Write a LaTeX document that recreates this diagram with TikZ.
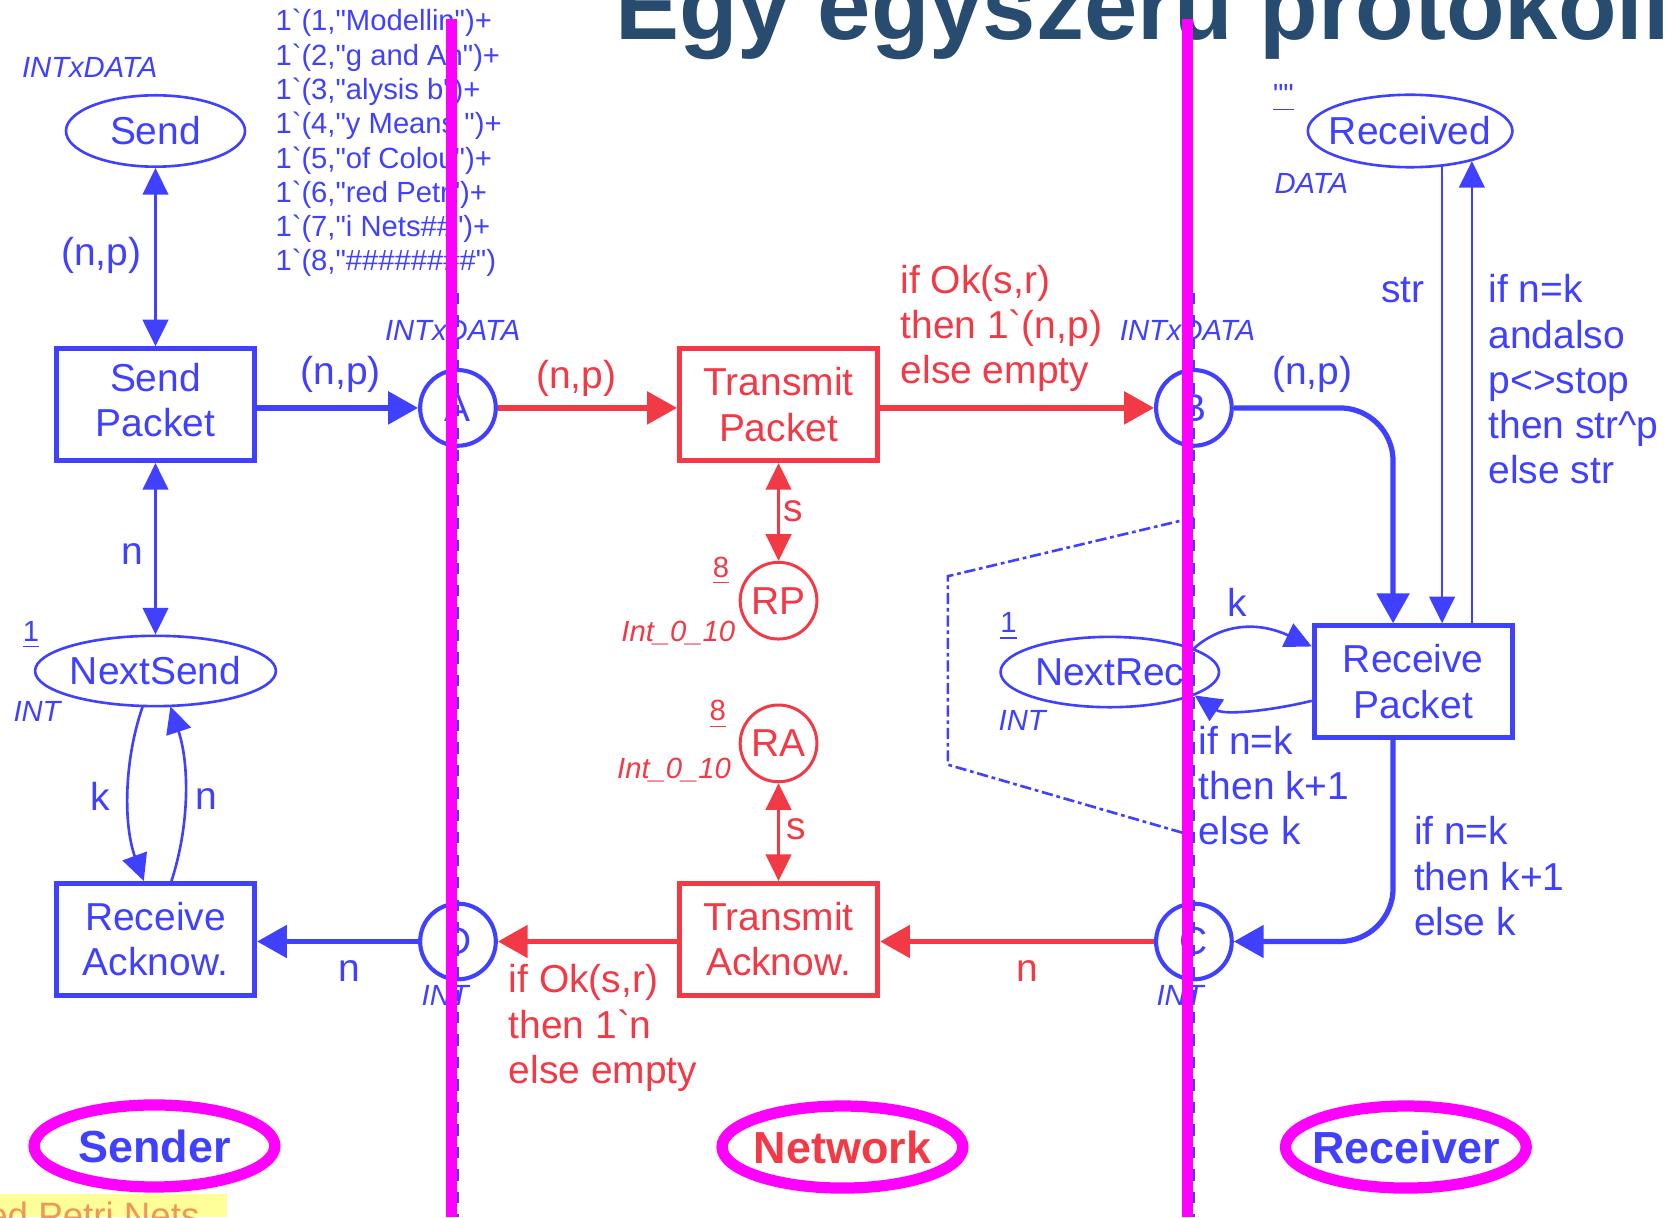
\documentclass[tikz,border=0pt]{standalone}
\usepackage{fontspec}
\usetikzlibrary{positioning,arrows.meta,calc,shapes.geometric}
\newfontfamily\netfont{Liberation Sans}
\definecolor{cpnblue}{RGB}{64,64,255}
\definecolor{cpnred}{RGB}{242,58,70}
\definecolor{hilite}{RGB}{255,0,255}
\definecolor{titleblue}{RGB}{40,75,112}
\definecolor{footorange}{RGB}{240,150,90}
\definecolor{footyellow}{RGB}{255,255,153}

\begin{document}
\begin{tikzpicture}[
    x=0.01cm, y=-0.01cm,
    cpnblue,
    font=\netfont\fontsize{10.4}{12.1}\selectfont,
    place/.style={circle, draw, line width=1.1pt, minimum size=0.71cm, inner sep=0pt},
    oval/.style={ellipse, draw, line width=0.7pt, inner xsep=-4pt, inner ysep=0pt},
    trans/.style={
      draw,
      line width=1.3pt,
      minimum width=1.86cm,
      minimum height=1.05cm,
      inner sep=0pt,
      align=center
    },
    lbl/.style={inner sep=0pt},
    cond/.style={inner sep=0pt, align=left, anchor=north west},
    typ/.style={inner sep=0pt, font=\netfont\itshape\fontsize{7.8}{9.2}\selectfont},
    mrk/.style={inner sep=0pt, font=\netfont\fontsize{7.8}{9.16}\selectfont},
    lightarc/.style={line width=0.7pt},
    heavyarc/.style={line width=1.4pt},
    arr/.style={-{Triangle[length=0.25cm,width=0.24cm]}},
    arrs/.style={{Triangle[length=0.25cm,width=0.24cm]}-{Triangle[length=0.25cm,width=0.24cm]}},
    bigarr/.style={-{Triangle[length=0.28cm,width=0.3cm]}},
    divider/.style={draw=hilite, line width=3pt},
    partlbl/.style={
      ellipse,
      draw=hilite,
      line width=3pt,
      minimum width=2.26cm,
      minimum height=0.77cm,
      inner xsep=-6pt,
      inner ysep=0pt,
      font=\netfont\bfseries\fontsize{12}{14}\selectfont
    }
  ]
  \useasboundingbox (0,0) rectangle (1568,1143);
  \clip (0,0) rectangle (1568,1143);

  % slide heading, cut off at the top
  \node[anchor=base west, inner sep=0pt, text=titleblue,
    font=\netfont\bfseries\fontsize{25.6}{30}\selectfont] (title) at (577,37) {Egy egyszerű protokoll};

  % dashed page borders
  \draw[dashed, line width=0.6pt] (430,275) -- (430,1143);
  \draw[dashed, line width=0.6pt] (1121,275) -- (1121,1143);
  \draw[dash pattern=on 3pt off 1pt on 1pt off 1pt, line width=0.7pt]
    (1121,486) -- (890,541) -- (890,718) -- (1121,785);

  % border places A, B, C, D
  \node[place] (A) at (430,383) {A};
  \node[typ] (Atype) at (425,310) {INTxDATA};
  \node[place] (D) at (430,884) {D};
  \node[typ] (Dtype) at (418,935) {INT};
  \node[place] (B) at (1121,383) {B};
  \node[typ] (Btype) at (1115,310) {INTxDATA};
  \node[place] (C) at (1121,884) {C};
  \node[typ] (Ctype) at (1108,935) {INT};

  % Sender: Send -> Send Packet -> A, D -> Receive Acknow. <-> NextSend
  \node[typ, anchor=west] (sendtype) at (20,63) {INTxDATA};
  \node[oval, minimum width=1.68cm, minimum height=0.67cm] (send) at (146,123) {Send};
  \node[mrk, align=left, anchor=north west] (sendinit) at (258,8)
    {1`(1,"Modellin")+\\1`(2,"g and An")+\\1`(3,"alysis b")+\\1`(4,"y Means ")+\\%
     1`(5,"of Colou")+\\1`(6,"red Petr")+\\1`(7,"i Nets\#\#")+\\1`(8,"\#\#\#\#\#\#\#\#")};
  \node[trans] (sendpk) at (146,380) {\raisebox{5pt}{\begin{tabular}{@{}c@{}}Send\\Packet\end{tabular}}};
  \node[oval, minimum width=2.26cm, minimum height=0.66cm] (nextsend) at (146,630) {NextSend};
  \node[mrk] (nsinit) at (29,596) {\underline{1}};
  \node[typ, anchor=west] (nstype) at (12,668) {INT};
  \node[trans] (recack) at (146,882) {Receive\\Acknow.};

  \draw[lightarc, arrs] (send) -- (sendpk);
  \draw[lightarc, arrs] (sendpk) -- (nextsend);
  \draw[heavyarc, bigarr] (sendpk.east |- A) -- (A);
  \draw[lightarc, arr] ($(nextsend.south)+(-12,-1)$) .. controls (116,715) and (116,775) .. ($(recack.north)+(-11,0)$);
  \draw[lightarc, arr] ($(recack.north)+(15,0)$) .. controls (178,775) and (178,718) .. ($(nextsend.south)+(14,-1)$);
  \draw[heavyarc, bigarr] (D) -- (recack.east |- D);

  \node[lbl] (npsend) at (95,240) {(n,p)};
  \node[lbl] (npA) at (320,352) {(n,p)};
  \node[lbl] (nnext) at (124,520) {n};
  \node[lbl] (kack) at (94,748) {k};
  \node[lbl] (nack) at (194,750) {n};
  \node[lbl] (nD) at (328,912) {n};

  % Network: Transmit Packet / Transmit Acknow. with RP and RA
  \begin{scope}[cpnred]
    \node[trans] (transpk) at (731,380) {Transmit\\Packet};
    \node[place, line width=0.8pt, minimum size=0.72cm] (RP) at (731,564) {RP};
    \node[mrk] (RPinit) at (677,536) {\underline{8}};
    \node[typ, anchor=east] (RPtype) at (691,594) {Int\_0\_10};
    \node[place, line width=0.8pt, minimum size=0.72cm] (RA) at (731,698) {RA};
    \node[mrk] (RAinit) at (674,671) {\underline{8}};
    \node[typ, anchor=east] (RAtype) at (687,723) {Int\_0\_10};
    \node[trans] (transack) at (731,882) {Transmit\\Acknow.};

    \draw[heavyarc, bigarr] (A) -- (transpk.west |- A);
    \draw[heavyarc, bigarr] (transpk.east |- B) -- (B);
    \draw[lightarc, arrs] (transpk) -- (RP);
    \draw[lightarc, arrs] (RA) -- (transack);
    \draw[heavyarc, bigarr] (C) -- (transack.east |- C);
    \draw[heavyarc, bigarr] (transack.west |- D) -- (D);

    \node[lbl] (npTP) at (541,355) {(n,p)};
    \node[cond] (condB) at (845,248) {if Ok(s,r)\\then 1`(n,p)\\else empty};
    \node[lbl] (sRP) at (745,480) {s};
    \node[lbl] (sRA) at (748,779) {s};
    \node[lbl] (nC) at (965,912) {n};
    \node[cond] (condD) at (477,905) {if Ok(s,r)\\then 1`n\\else empty};
  \end{scope}

  % Receiver: B -> Receive Packet -> C, Received and NextRec
  \node[oval, minimum width=1.92cm, minimum height=0.68cm] (received) at (1324,123) {Received};
  \node[mrk] (rcvinit) at (1205,92) {\underline{""}};
  \node[typ, anchor=west] (rcvtype) at (1196,172) {DATA};
  \node[trans] (recpk) at (1327,640) {Receive\\Packet};
  \node[oval, minimum width=2.05cm, minimum height=0.66cm] (nextrec) at (1042,631) {NextRec};
  \node[mrk] (nrinit) at (947,588) {\underline{1}};
  \node[typ, anchor=west] (nrtype) at (937,676) {INT};

  \draw[heavyarc, bigarr, rounded corners=0.5cm] (B) -| ($(recpk.north)+(-19,0)$);
  \draw[lightarc, arr] ($(received.south)+(30,-2)$) -- ($(recpk.north)+(27,0)$);
  \draw[lightarc, arr] ($(recpk.north)+(55,0)$) -- ($(received.south)+(58,-7)$);
  \draw[lightarc, arr] ($(nextrec.east)+(-25,-22)$) .. controls (1150,583) and (1185,585) .. ($(recpk.west)+(0,-33)$);
  \draw[lightarc, arr] ($(recpk.west)+(0,18)$) .. controls (1195,667) and (1150,672) .. ($(nextrec.east)+(-24,22)$);
  \draw[heavyarc, bigarr, rounded corners=0.5cm] ($(recpk.south)+(-19,0)$) |- (C);

  \node[lbl] (npB) at (1232,352) {(n,p)};
  \node[lbl] (strrcv) at (1317,272) {str};
  \node[cond] (condrcv) at (1397,257) {if n=k\\andalso\\p<>stop\\then str\textasciicircum p\\else str};
  \node[lbl] (krec) at (1162,566) {k};
  \node[cond] (condrec) at (1125,681) {if n=k\\then k+1\\else k};
  \node[cond] (condC) at (1327,766) {if n=k\\then k+1\\else k};

  % marks drawn over the slide
  \draw[divider] (424,18) -- (424,1143);
  \draw[divider] (1115,18) -- (1115,1143);
  \node[partlbl, text=cpnblue] (sender) at (145,1076) {Sender};
  \node[partlbl, text=cpnred] (network) at (791,1077) {Network};
  \node[partlbl, text=cpnblue] (receiver) at (1320,1077) {Receiver};

  % footer of the slide
  \fill[footyellow] (0,1121) rectangle (213,1143);
  \node[anchor=base east, inner sep=0pt, text=footorange,
    font=\netfont\fontsize{9.8}{11}\selectfont] (footer) at (188,1153) {Coloured Petri Nets};
\end{tikzpicture}
\end{document}
